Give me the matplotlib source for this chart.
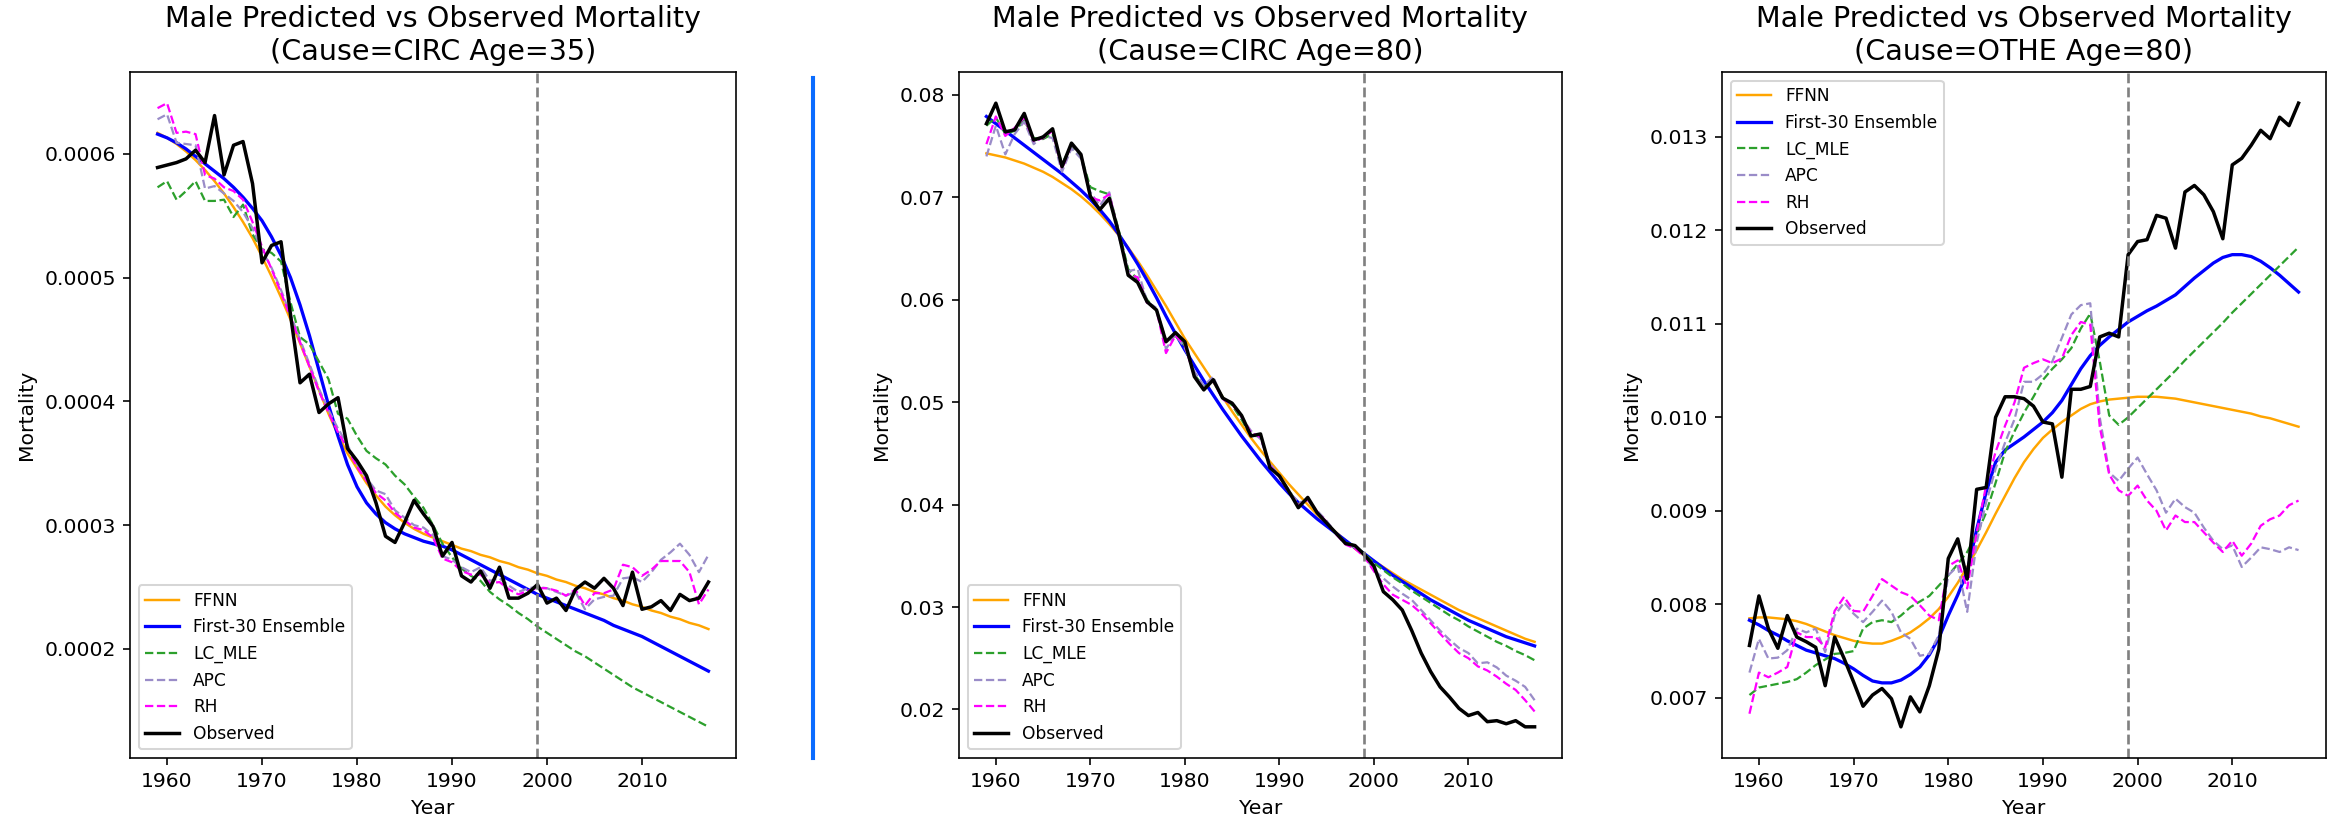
import matplotlib
matplotlib.use("Agg")
import matplotlib.pyplot as plt
from matplotlib.lines import Line2D

years = list(range(1959, 2018))
split_year = 1999
series_names = ["FFNN", "First-30 Ensemble", "LC_MLE", "APC", "RH", "Observed"]
titles = ["Male Predicted vs Observed Mortality\n(Cause=CIRC Age=35)",
          "Male Predicted vs Observed Mortality\n(Cause=CIRC Age=80)",
          "Male Predicted vs Observed Mortality\n(Cause=OTHE Age=80)"]

# ---------------- Panel 1: CIRC, age 35 ----------------
p1_ffnn = [0.000617, 0.000613, 0.000608, 0.000602, 0.000595, 0.000587, 0.000578, 0.000568, 0.000557, 0.000545,
           0.000532, 0.000517, 0.000501, 0.000484, 0.000466, 0.000447, 0.000428, 0.000409, 0.000390, 0.000373,
           0.000358, 0.000346, 0.000334, 0.000324, 0.000315, 0.000308, 0.000302, 0.000297, 0.000293, 0.000290,
           0.000287, 0.000284, 0.000281, 0.000279, 0.000276, 0.000274, 0.000271, 0.000269, 0.000266, 0.000264,
           0.000261, 0.000259, 0.000256, 0.000254, 0.000251, 0.000249, 0.000246, 0.000244, 0.000241, 0.000239,
           0.000236, 0.000234, 0.000231, 0.000229, 0.000226, 0.000224, 0.000221, 0.000219, 0.000216]
p1_ens = [0.000616, 0.000613, 0.000609, 0.000604, 0.000598, 0.000592, 0.000586, 0.000580, 0.000573, 0.000565,
          0.000556, 0.000546, 0.000533, 0.000518, 0.000500, 0.000478, 0.000453, 0.000425, 0.000397, 0.000372,
          0.000349, 0.000331, 0.000318, 0.000309, 0.000302, 0.000297, 0.000293, 0.000290, 0.000287, 0.000285,
          0.000283, 0.000280, 0.000276, 0.000272, 0.000268, 0.000264, 0.000260, 0.000256, 0.000252, 0.000248,
          0.000244, 0.000241, 0.000238, 0.000235, 0.000232, 0.000229, 0.000226, 0.000223, 0.000219, 0.000216,
          0.000213, 0.000210, 0.000206, 0.000202, 0.000198, 0.000194, 0.000190, 0.000186, 0.000182]
p1_lc = [0.000573, 0.000578, 0.000563, 0.000570, 0.000578, 0.000562, 0.000562, 0.000563, 0.000549, 0.000559,
         0.000535, 0.000523, 0.000520, 0.000513, 0.000480, 0.000452, 0.000446, 0.000432, 0.000418, 0.000390,
         0.000386, 0.000372, 0.000360, 0.000354, 0.000349, 0.000340, 0.000333, 0.000323, 0.000314, 0.000300,
         0.000285, 0.000274, 0.000265, 0.000259, 0.000255, 0.000246, 0.000240, 0.000235, 0.000229, 0.000224,
         0.000218, 0.000213, 0.000208, 0.000203, 0.000198, 0.000194, 0.000189, 0.000184, 0.000179, 0.000174,
         0.000169, 0.000165, 0.000161, 0.000157, 0.000153, 0.000149, 0.000145, 0.000141, 0.000137]
p1_apc = [0.000628, 0.000632, 0.000609, 0.000608, 0.000607, 0.000572, 0.000574, 0.000568, 0.000562, 0.000553,
          0.000540, 0.000522, 0.000508, 0.000490, 0.000470, 0.000450, 0.000430, 0.000410, 0.000393, 0.000378,
          0.000365, 0.000349, 0.000338, 0.000328, 0.000325, 0.000312, 0.000306, 0.000300, 0.000298, 0.000292,
          0.000275, 0.000272, 0.000266, 0.000262, 0.000266, 0.000255, 0.000257, 0.000251, 0.000246, 0.000249,
          0.000250, 0.000249, 0.000246, 0.000243, 0.000246, 0.000232, 0.000240, 0.000242, 0.000243, 0.000257,
          0.000258, 0.000254, 0.000262, 0.000272, 0.000278, 0.000285, 0.000276, 0.000262, 0.000276]
p1_rh = [0.000637, 0.000641, 0.000617, 0.000618, 0.000616, 0.000583, 0.000580, 0.000573, 0.000570, 0.000563,
         0.000545, 0.000525, 0.000507, 0.000488, 0.000468, 0.000448, 0.000428, 0.000408, 0.000391, 0.000375,
         0.000362, 0.000347, 0.000336, 0.000326, 0.000320, 0.000310, 0.000304, 0.000298, 0.000296, 0.000290,
         0.000273, 0.000270, 0.000263, 0.000260, 0.000260, 0.000253, 0.000254, 0.000248, 0.000244, 0.000247,
         0.000249, 0.000249, 0.000247, 0.000243, 0.000248, 0.000235, 0.000245, 0.000245, 0.000248, 0.000268,
         0.000266, 0.000259, 0.000264, 0.000271, 0.000271, 0.000271, 0.000262, 0.000236, 0.000248]
p1_obs = [0.000589, 0.000591, 0.000593, 0.000596, 0.000603, 0.000593, 0.000631, 0.000583, 0.000607, 0.000610,
          0.000576, 0.000512, 0.000526, 0.000529, 0.000470, 0.000415, 0.000422, 0.000391, 0.000398, 0.000403,
          0.000362, 0.000352, 0.000340, 0.000318, 0.000291, 0.000286, 0.000302, 0.000320, 0.000309, 0.000299,
          0.000275, 0.000286, 0.000259, 0.000254, 0.000263, 0.000249, 0.000266, 0.000241, 0.000241, 0.000245,
          0.000252, 0.000237, 0.000241, 0.000231, 0.000248, 0.000254, 0.000249, 0.000257, 0.000249, 0.000235,
          0.000262, 0.000232, 0.000234, 0.000239, 0.000231, 0.000244, 0.000239, 0.000241, 0.000254]

# ---------------- Panel 2: CIRC, age 80 ----------------
p2_ffnn = [0.0743, 0.0741, 0.0739, 0.0736, 0.0733, 0.0729, 0.0725, 0.0720, 0.0714, 0.0708,
           0.0701, 0.0693, 0.0684, 0.0674, 0.0663, 0.0651, 0.0638, 0.0624, 0.0609, 0.0594,
           0.0578, 0.0562, 0.0548, 0.0534, 0.0520, 0.0505, 0.0491, 0.0478, 0.0465, 0.0453,
           0.0442, 0.0431, 0.0420, 0.0410, 0.0400, 0.0390, 0.0381, 0.0373, 0.0365, 0.0357,
           0.0350, 0.0345, 0.0339, 0.0333, 0.0327, 0.0322, 0.0317, 0.0312, 0.0307, 0.0302,
           0.0297, 0.0293, 0.0289, 0.0285, 0.0281, 0.0277, 0.0273, 0.0269, 0.0266]
p2_ens = [0.0779, 0.0772, 0.0765, 0.0758, 0.0751, 0.0744, 0.0737, 0.0730, 0.0723, 0.0715,
          0.0707, 0.0698, 0.0688, 0.0677, 0.0664, 0.0650, 0.0635, 0.0619, 0.0602, 0.0584,
          0.0567, 0.0551, 0.0536, 0.0521, 0.0507, 0.0493, 0.0480, 0.0467, 0.0455, 0.0443,
          0.0432, 0.0421, 0.0411, 0.0402, 0.0394, 0.0386, 0.0379, 0.0372, 0.0365, 0.0358,
          0.0352, 0.0345, 0.0338, 0.0331, 0.0325, 0.0319, 0.0313, 0.0307, 0.0302, 0.0297,
          0.0292, 0.0287, 0.0283, 0.0279, 0.0275, 0.0271, 0.0268, 0.0265, 0.0262]
p2_lc = [0.0770, 0.0778, 0.0762, 0.0765, 0.0775, 0.0758, 0.0757, 0.0762, 0.0733, 0.0750,
         0.0740, 0.0710, 0.0706, 0.0703, 0.0668, 0.0630, 0.0620, 0.0600, 0.0590, 0.0560,
         0.0565, 0.0555, 0.0527, 0.0515, 0.0520, 0.0505, 0.0497, 0.0483, 0.0467, 0.0467,
         0.0437, 0.0428, 0.0414, 0.0400, 0.0405, 0.0392, 0.0382, 0.0372, 0.0363, 0.0360,
         0.0352, 0.0343, 0.0336, 0.0329, 0.0323, 0.0316, 0.0310, 0.0304, 0.0298, 0.0292,
         0.0287, 0.0281, 0.0276, 0.0271, 0.0266, 0.0262, 0.0257, 0.0253, 0.0248]
p2_apc = [0.0740, 0.0770, 0.0742, 0.0762, 0.0774, 0.0752, 0.0760, 0.0758, 0.0725, 0.0748,
          0.0738, 0.0705, 0.0692, 0.0705, 0.0662, 0.0628, 0.0630, 0.0598, 0.0592, 0.0552,
          0.0566, 0.0553, 0.0530, 0.0516, 0.0525, 0.0502, 0.0500, 0.0485, 0.0472, 0.0464,
          0.0440, 0.0428, 0.0412, 0.0402, 0.0404, 0.0394, 0.0384, 0.0372, 0.0362, 0.0358,
          0.0350, 0.0336, 0.0328, 0.0320, 0.0313, 0.0307, 0.0297, 0.0287, 0.0277, 0.0268,
          0.0260, 0.0255, 0.0245, 0.0246, 0.0241, 0.0233, 0.0228, 0.0222, 0.0209]
p2_rh = [0.0752, 0.0779, 0.0760, 0.0768, 0.0778, 0.0755, 0.0758, 0.0765, 0.0728, 0.0752,
         0.0742, 0.0700, 0.0697, 0.0703, 0.0665, 0.0625, 0.0622, 0.0597, 0.0590, 0.0548,
         0.0565, 0.0556, 0.0525, 0.0513, 0.0521, 0.0503, 0.0498, 0.0486, 0.0470, 0.0466,
         0.0438, 0.0427, 0.0413, 0.0399, 0.0405, 0.0393, 0.0383, 0.0371, 0.0361, 0.0357,
         0.0349, 0.0335, 0.0322, 0.0312, 0.0307, 0.0302, 0.0294, 0.0284, 0.0274, 0.0264,
         0.0255, 0.0250, 0.0242, 0.0238, 0.0232, 0.0225, 0.0219, 0.0209, 0.0198]
p2_obs = [0.0772, 0.0792, 0.0764, 0.0766, 0.0782, 0.0756, 0.0759, 0.0767, 0.0730, 0.0753,
          0.0742, 0.0701, 0.0688, 0.0699, 0.0665, 0.0624, 0.0617, 0.0598, 0.0590, 0.0559,
          0.0568, 0.0559, 0.0525, 0.0512, 0.0522, 0.0504, 0.0499, 0.0487, 0.0467, 0.0469,
          0.0436, 0.0428, 0.0413, 0.0397, 0.0407, 0.0392, 0.0382, 0.0372, 0.0362, 0.0360,
          0.0351, 0.0340, 0.0315, 0.0307, 0.0297, 0.0277, 0.0255, 0.0237, 0.0222, 0.0212,
          0.0201, 0.0194, 0.0197, 0.0188, 0.0189, 0.0186, 0.0189, 0.0183, 0.0183]

# ---------------- Panel 3: OTHE, age 80 ----------------
p3_ffnn = [0.00785, 0.00786, 0.00786, 0.00785, 0.00784, 0.00782, 0.00779, 0.00775, 0.00771, 0.00767,
           0.00764, 0.00761, 0.00759, 0.00758, 0.00758, 0.00761, 0.00765, 0.00770, 0.00777, 0.00785,
           0.00795, 0.00808, 0.00823, 0.00840, 0.00858, 0.00877, 0.00897, 0.00916, 0.00935, 0.00952,
           0.00966, 0.00978, 0.00987, 0.00995, 0.01002, 0.01009, 0.01014, 0.01017, 0.01019, 0.01020,
           0.01021, 0.01022, 0.01022, 0.01022, 0.01021, 0.01020, 0.01018, 0.01016, 0.01014, 0.01012,
           0.01010, 0.01008, 0.01006, 0.01004, 0.01001, 0.00999, 0.00996, 0.00993, 0.00990]
p3_ens = [0.00783, 0.00778, 0.00772, 0.00767, 0.00761, 0.00756, 0.00751, 0.00748, 0.00745, 0.00742,
          0.00737, 0.00731, 0.00724, 0.00718, 0.00716, 0.00716, 0.00719, 0.00725, 0.00733, 0.00746,
          0.00764, 0.00788, 0.00810, 0.00835, 0.00880, 0.00920, 0.00952, 0.00965, 0.00972, 0.00979,
          0.00987, 0.00995, 0.01005, 0.01018, 0.01035, 0.01052, 0.01066, 0.01077, 0.01086, 0.01094,
          0.01102, 0.01108, 0.01114, 0.01119, 0.01125, 0.01131, 0.01140, 0.01149, 0.01157, 0.01165,
          0.01171, 0.01174, 0.01174, 0.01172, 0.01167, 0.01160, 0.01152, 0.01143, 0.01134]
p3_lc = [0.00703, 0.00711, 0.00713, 0.00715, 0.00717, 0.00720, 0.00727, 0.00735, 0.00741, 0.00747,
         0.00748, 0.00750, 0.00774, 0.00781, 0.00783, 0.00781, 0.00788, 0.00797, 0.00803, 0.00809,
         0.00820, 0.00831, 0.00843, 0.00856, 0.00875, 0.00898, 0.00930, 0.00963, 0.00985, 0.01005,
         0.01022, 0.01040, 0.01052, 0.01062, 0.01074, 0.01095, 0.01111, 0.01060, 0.01002, 0.00992,
         0.01000, 0.01010, 0.01020, 0.01030, 0.01040, 0.01050, 0.01061, 0.01071, 0.01081, 0.01091,
         0.01101, 0.01112, 0.01122, 0.01132, 0.01142, 0.01152, 0.01162, 0.01172, 0.01182]
p3_apc = [0.00727, 0.00763, 0.00742, 0.00743, 0.00751, 0.00774, 0.00770, 0.00774, 0.00749, 0.00788,
          0.00802, 0.00790, 0.00781, 0.00792, 0.00804, 0.00792, 0.00770, 0.00763, 0.00745, 0.00747,
          0.00767, 0.00831, 0.00841, 0.00792, 0.00866, 0.00909, 0.00945, 0.00973, 0.00998, 0.01038,
          0.01038, 0.01046, 0.01060, 0.01085, 0.01110, 0.01120, 0.01122, 0.01000, 0.00941, 0.00932,
          0.00945, 0.00957, 0.00939, 0.00922, 0.00898, 0.00913, 0.00904, 0.00898, 0.00882, 0.00868,
          0.00859, 0.00863, 0.00840, 0.00850, 0.00861, 0.00859, 0.00856, 0.00861, 0.00858]
p3_rh = [0.00683, 0.00727, 0.00722, 0.00727, 0.00733, 0.00770, 0.00765, 0.00765, 0.00754, 0.00793,
         0.00808, 0.00793, 0.00792, 0.00809, 0.00827, 0.00820, 0.00813, 0.00809, 0.00799, 0.00788,
         0.00783, 0.00841, 0.00847, 0.00817, 0.00877, 0.00927, 0.00963, 0.00991, 0.01016, 0.01053,
         0.01058, 0.01062, 0.01058, 0.01063, 0.01088, 0.01102, 0.01099, 0.00990, 0.00939, 0.00922,
         0.00916, 0.00927, 0.00911, 0.00900, 0.00879, 0.00895, 0.00888, 0.00888, 0.00877, 0.00866,
         0.00856, 0.00868, 0.00852, 0.00865, 0.00884, 0.00891, 0.00895, 0.00906, 0.00911]
p3_obs = [0.00756, 0.00809, 0.00774, 0.00753, 0.00788, 0.00765, 0.00760, 0.00754, 0.00713, 0.00765,
          0.00742, 0.00717, 0.00691, 0.00703, 0.00710, 0.00699, 0.00669, 0.00701, 0.00685, 0.00713,
          0.00752, 0.00849, 0.00870, 0.00827, 0.00923, 0.00925, 0.01000, 0.01022, 0.01022, 0.01020,
          0.01012, 0.00995, 0.00993, 0.00936, 0.01030, 0.01030, 0.01033, 0.01086, 0.01090, 0.01086,
          0.01174, 0.01188, 0.01190, 0.01216, 0.01213, 0.01181, 0.01241, 0.01248, 0.01238, 0.01220,
          0.01191, 0.01270, 0.01277, 0.01291, 0.01307, 0.01298, 0.01321, 0.01312, 0.01336]

panels = [
    [p1_ffnn, p1_ens, p1_lc, p1_apc, p1_rh, p1_obs],
    [p2_ffnn, p2_ens, p2_lc, p2_apc, p2_rh, p2_obs],
    [p3_ffnn, p3_ens, p3_lc, p3_apc, p3_rh, p3_obs],
]
legend_locs = ["lower left", "lower left", "upper left"]

styles = [
    dict(color="orange", lw=1.2, ls="-"),
    dict(color="blue", lw=1.6, ls="-"),
    dict(color="#2ca02c", lw=1.1, ls="--"),
    dict(color="#9a8cc8", lw=1.1, ls="--"),
    dict(color="magenta", lw=1.1, ls="--"),
    dict(color="black", lw=1.7, ls="-"),
]

W, H, DPI = 2336, 822, 147
fig = plt.figure(figsize=(W / DPI, H / DPI), dpi=DPI)
fig.patch.set_facecolor("white")

lefts_px = [130, 959, 1722]
widths_px = [606, 603, 604]
top_px, bottom_px = 72, 758

for i in range(3):
    ax = fig.add_axes([lefts_px[i] / W, 1 - bottom_px / H,
                       widths_px[i] / W, (bottom_px - top_px) / H])
    for name, vals, st in zip(series_names, panels[i], styles):
        ax.plot(years, vals, label=name, **st)
    ax.axvline(split_year, color="gray", ls="--", lw=1.3)
    ax.set_title(titles[i], fontsize=14)
    ax.set_xlabel("Year")
    ax.set_ylabel("Mortality")
    ax.legend(loc=legend_locs[i], fontsize="small")

# blue vertical separator between first and second figure
fig.add_artist(Line2D([812.7 / W, 812.7 / W], [1 - 758 / H, 1 - 78 / H],
                      transform=fig.transFigure, color="#0a6cff", lw=2.0))

fig.savefig("out.png", dpi=DPI, facecolor="white")
